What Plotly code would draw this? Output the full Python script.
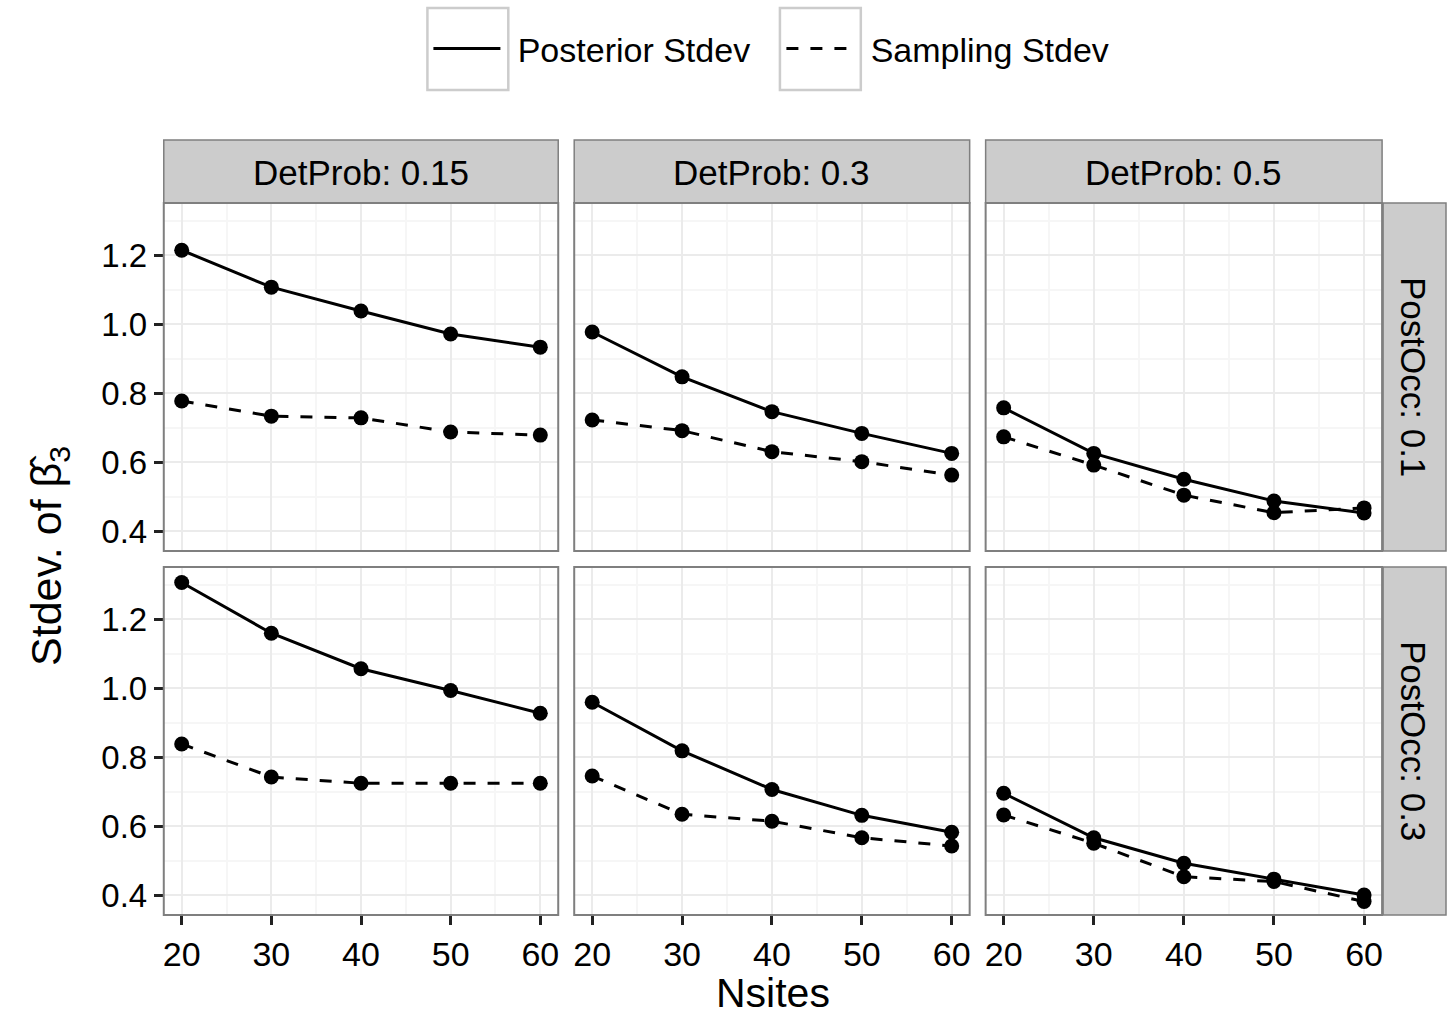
import plotly.graph_objects as go

W, H = 1448, 1016

nsites = [20, 30, 40, 50, 60]
det_probs = ["0.15", "0.3", "0.5"]
post_occs = ["0.1", "0.3"]

# Posterior Stdev, PostOcc 0.1
post_01_d015 = [1.214, 1.107, 1.038, 0.971, 0.933]
post_01_d03 = [0.977, 0.847, 0.746, 0.683, 0.625]
post_01_d05 = [0.757, 0.625, 0.550, 0.487, 0.452]
# Sampling Stdev, PostOcc 0.1
samp_01_d015 = [0.777, 0.733, 0.728, 0.687, 0.678]
samp_01_d03 = [0.722, 0.691, 0.630, 0.601, 0.562]
samp_01_d05 = [0.673, 0.591, 0.504, 0.453, 0.467]
# Posterior Stdev, PostOcc 0.3
post_03_d015 = [1.306, 1.159, 1.056, 0.993, 0.927]
post_03_d03 = [0.959, 0.818, 0.706, 0.631, 0.582]
post_03_d05 = [0.695, 0.566, 0.492, 0.446, 0.400]
# Sampling Stdev, PostOcc 0.3
samp_03_d015 = [0.838, 0.742, 0.724, 0.724, 0.724]
samp_03_d03 = [0.745, 0.634, 0.614, 0.566, 0.542]
samp_03_d05 = [0.632, 0.550, 0.453, 0.439, 0.381]

posterior = [[post_01_d015, post_01_d03, post_01_d05],
             [post_03_d015, post_03_d03, post_03_d05]]
sampling = [[samp_01_d015, samp_01_d03, samp_01_d05],
            [samp_03_d015, samp_03_d03, samp_03_d05]]

series_names = ["Posterior Stdev", "Sampling Stdev"]
y_ticks = [0.4, 0.6, 0.8, 1.0, 1.2]
y_tick_text = ["0.4", "0.6", "0.8", "1.0", "1.2"]
x_ticks = [20, 30, 40, 50, 60]

FONT = "Liberation Sans, Arial, Helvetica, sans-serif"
DASH = "12px,12px"

# panel pixel geometry
col_px = [(163, 558), (574, 970), (986, 1383)]
row_px = [(203, 551), (567, 915)]


def px_x(v):
    return v / W


def px_y(v):
    return 1 - v / H


fig = go.Figure()
layout = {}
shapes = []
annotations = []

for r in range(2):
    for c in range(3):
        idx = r * 3 + c + 1
        xa = "x" if idx == 1 else f"x{idx}"
        ya = "y" if idx == 1 else f"y{idx}"
        xkey = "xaxis" if idx == 1 else f"xaxis{idx}"
        ykey = "yaxis" if idx == 1 else f"yaxis{idx}"
        fig.add_trace(go.Scatter(
            x=nsites, y=posterior[r][c], xaxis=xa, yaxis=ya,
            mode="lines+markers", name=series_names[0],
            line=dict(color="black", width=3, dash="solid"),
            marker=dict(color="black", size=15),
            showlegend=False))
        fig.add_trace(go.Scatter(
            x=nsites, y=sampling[r][c], xaxis=xa, yaxis=ya,
            mode="lines+markers", name=series_names[1],
            line=dict(color="black", width=3, dash=DASH),
            marker=dict(color="black", size=15),
            showlegend=False))
        x0, x1 = col_px[c]
        y0, y1 = row_px[r]
        layout[xkey] = dict(
            domain=[px_x(x0), px_x(x1)], range=[18, 62],
            anchor=ya, tickvals=x_ticks,
            showticklabels=(r == 1), ticks=("outside" if r == 1 else ""),
            ticklen=9, tickwidth=2.5, tickcolor="#222222",
            tickfont=dict(size=34, color="black", family=FONT),
            showgrid=True, gridcolor="#EBEBEB", gridwidth=2,
            minor=dict(dtick=5, tick0=15, showgrid=True, gridcolor="#F6F6F6", gridwidth=1.5, ticks=""),
            zeroline=False, showline=False, fixedrange=True)
        layout[ykey] = dict(
            domain=[px_y(y1), px_y(y0)], range=[0.342, 1.351],
            anchor=xa, tickvals=y_ticks, ticktext=y_tick_text,
            showticklabels=(c == 0), ticks=("outside" if c == 0 else ""),
            ticklen=9, tickwidth=2.5, tickcolor="#222222",
            tickfont=dict(size=33, color="black", family=FONT),
            showgrid=True, gridcolor="#EBEBEB", gridwidth=2,
            minor=dict(dtick=0.1, tick0=0.3, showgrid=True, gridcolor="#F6F6F6", gridwidth=1.5, ticks=""),
            zeroline=False, showline=False, fixedrange=True)
        shapes.append(dict(type="rect", xref="paper", yref="paper",
                           x0=px_x(x0), x1=px_x(x1), y0=px_y(y1), y1=px_y(y0),
                           line=dict(color="#7F7F7F", width=2), fillcolor="rgba(0,0,0,0)", layer="above"))

# legend-only entries (lines without markers, as in the reference key)
fig.add_trace(go.Scatter(x=[None], y=[None], mode="lines", name="\u00a0\u200a" + series_names[0],
                         line=dict(color="black", width=3, dash="solid"), showlegend=True))
fig.add_trace(go.Scatter(x=[None], y=[None], mode="lines", name="\u00a0\u200a" + series_names[1],
                         line=dict(color="black", width=3, dash=DASH), showlegend=True))

# top strips
for c in range(3):
    x0, x1 = col_px[c]
    shapes.append(dict(type="rect", xref="paper", yref="paper",
                       x0=px_x(x0), x1=px_x(x1), y0=px_y(203), y1=px_y(140),
                       line=dict(color="#7F7F7F", width=1.5), fillcolor="#CCCCCC", layer="below"))
    annotations.append(dict(xref="paper", yref="paper", x=px_x((x0 + x1) / 2), y=px_y(172),
                            text=f"DetProb: {det_probs[c]}", showarrow=False,
                            font=dict(size=35, color="black", family=FONT),
                            xanchor="center", yanchor="middle"))
# right strips
for r in range(2):
    y0, y1 = row_px[r]
    shapes.append(dict(type="rect", xref="paper", yref="paper",
                       x0=px_x(1384), x1=px_x(1447), y0=px_y(y1), y1=px_y(y0),
                       line=dict(color="#7F7F7F", width=1.5), fillcolor="#CCCCCC", layer="below"))
    annotations.append(dict(xref="paper", yref="paper", x=px_x(1415), y=px_y((y0 + y1) / 2),
                            text=f"PostOcc: {post_occs[r]}", showarrow=False, textangle=90,
                            font=dict(size=35, color="black", family=FONT),
                            xanchor="center", yanchor="middle"))

# axis titles
annotations.append(dict(xref="paper", yref="paper", x=px_x(773), y=px_y(993),
                        text="Nsites", showarrow=False,
                        font=dict(size=41, color="black", family=FONT),
                        xanchor="center", yanchor="middle"))
annotations.append(dict(xref="paper", yref="paper", x=px_x(48), y=px_y(556),
                        text="Stdev. of β\u0302<sub>3</sub>", showarrow=False, textangle=-90,
                        font=dict(size=43, color="black", family=FONT),
                        xanchor="center", yanchor="middle"))

# legend key boxes
for bx0, bx1 in [(427, 508), (780, 861)]:
    shapes.append(dict(type="rect", xref="paper", yref="paper",
                       x0=px_x(bx0), x1=px_x(bx1), y0=px_y(90), y1=px_y(8),
                       line=dict(color="#CCCCCC", width=2.5), fillcolor="white", layer="below"))

fig.update_layout(
    width=W, height=H,
    margin=dict(l=0, r=0, t=0, b=0),
    paper_bgcolor="white", plot_bgcolor="white",
    font=dict(family=FONT, color="black"),
    showlegend=True,
    legend=dict(orientation="h", x=px_x(428), xanchor="left", y=px_y(49), yanchor="middle",
                font=dict(size=34, family=FONT, color="black"),
                bgcolor="rgba(0,0,0,0)", itemwidth=67, tracegroupgap=0,
                entrywidth=271, entrywidthmode="pixels"),
    shapes=shapes, annotations=annotations,
    **layout)

fig.write_html("out.html", config={"displayModeBar": False},
               post_script="document.body.style.margin='0px';document.body.style.overflow='hidden';")
